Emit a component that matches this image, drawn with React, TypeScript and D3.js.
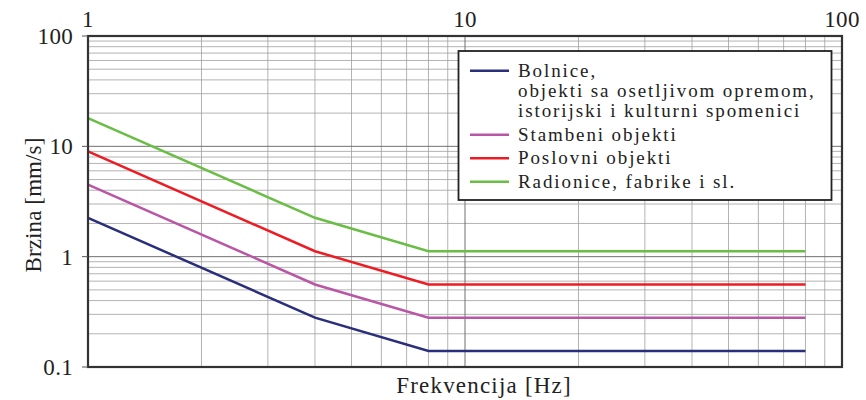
import { useEffect, useRef } from 'react';
import { select, scaleLog, line, range } from 'd3';

const width = 866;
const height = 400;
const margin = { top: 36, right: 24, bottom: 33, left: 88 };

// frequencies [Hz]
const freqs = [1, 4, 8, 80];

const seriesNames = [
  ['Bolnice,', 'objekti sa osetljivom opremom,', 'istorijski i kulturni spomenici'],
  ['Stambeni objekti'],
  ['Poslovni objekti'],
  ['Radionice, fabrike i sl.'],
];
const seriesColors = ['#2b2e7a', '#b956a6', '#ed1c24', '#6abd45'];

// velocity [mm/s]
const bolnice = [2.25, 0.28, 0.14, 0.14];
const stambeni = [4.5, 0.56, 0.28, 0.28];
const poslovni = [9, 1.12, 0.56, 0.56];
const radionice = [18, 2.25, 1.12, 1.12];

const xTicks = [1, 10, 100];
const yTicks = [0.1, 1, 10, 100];
const yTickLabels = ['0.1', '1', '10', '100'];

const font = 'Liberation Serif, serif';

function App() {
  const ref = useRef(null);

  useEffect(() => {
    const svg = select(ref.current);
    svg.selectAll('*').remove();

    const x = scaleLog().domain([1, 100]).range([margin.left, width - margin.right]);
    const y = scaleLog().domain([0.1, 100]).range([height - margin.bottom, margin.top]);

    const g = svg.append('g');

    // minor grid
    const xMinor = [];
    [1, 10].forEach((d) => range(2, 10).forEach((k) => xMinor.push(d * k)));
    const yMinor = [];
    [0.1, 1, 10].forEach((d) => range(2, 10).forEach((k) => yMinor.push(d * k)));

    g.selectAll('.xminor')
      .data(xMinor)
      .join('line')
      .attr('x1', (d) => x(d))
      .attr('x2', (d) => x(d))
      .attr('y1', y(0.1))
      .attr('y2', y(100))
      .attr('stroke', '#a0a0a0')
      .attr('stroke-width', 0.8);

    g.selectAll('.yminor')
      .data(yMinor)
      .join('line')
      .attr('x1', x(1))
      .attr('x2', x(100))
      .attr('y1', (d) => y(d))
      .attr('y2', (d) => y(d))
      .attr('stroke', '#a0a0a0')
      .attr('stroke-width', 0.8);

    // major grid
    g.selectAll('.xmajor')
      .data([10])
      .join('line')
      .attr('x1', (d) => x(d))
      .attr('x2', (d) => x(d))
      .attr('y1', y(0.1))
      .attr('y2', y(100))
      .attr('stroke', '#707070')
      .attr('stroke-width', 1);

    g.selectAll('.ymajor')
      .data([1, 10])
      .join('line')
      .attr('x1', x(1))
      .attr('x2', x(100))
      .attr('y1', (d) => y(d))
      .attr('y2', (d) => y(d))
      .attr('stroke', '#707070')
      .attr('stroke-width', 1);

    // series
    const allSeries = [bolnice, stambeni, poslovni, radionice];
    const lineGen = line()
      .x((d) => x(d[0]))
      .y((d) => y(d[1]));

    allSeries.forEach((vals, i) => {
      g.append('path')
        .attr('d', lineGen(freqs.map((f, j) => [f, vals[j]])))
        .attr('fill', 'none')
        .attr('stroke', seriesColors[i])
        .attr('stroke-width', 2.5);
    });

    // frame
    g.append('rect')
      .attr('x', x(1))
      .attr('y', y(100))
      .attr('width', x(100) - x(1))
      .attr('height', y(0.1) - y(100))
      .attr('fill', 'none')
      .attr('stroke', '#333')
      .attr('stroke-width', 2.2);

    // y ticks
    g.selectAll('.ytick')
      .data(yTicks)
      .join('line')
      .attr('x1', x(1) - 6)
      .attr('x2', x(1))
      .attr('y1', (d) => y(d))
      .attr('y2', (d) => y(d))
      .attr('stroke', '#555')
      .attr('stroke-width', 1);

    const text = (sel, size, spacing) =>
      sel
        .attr('font-family', font)
        .attr('font-size', size)
        .attr('letter-spacing', spacing)
        .attr('fill', '#222');

    g.selectAll('.ylabel')
      .data(yTicks)
      .join('text')
      .attr('x', x(1) - 15)
      .attr('y', (d) => y(d) + 8)
      .attr('text-anchor', 'end')
      .call(text, 23, 0.3)
      .text((d, i) => yTickLabels[i]);

    g.selectAll('.xlabel')
      .data(xTicks)
      .join('text')
      .attr('x', (d) => x(d))
      .attr('y', 26.5)
      .attr('text-anchor', 'middle')
      .call(text, 23, 0.3)
      .text((d) => String(d));

    // axis titles
    g.append('text')
      .attr('x', (x(1) + x(100)) / 2 + 19)
      .attr('y', 393)
      .attr('text-anchor', 'middle')
      .call(text, 23, 1.2)
      .text('Frekvencija [Hz]');

    g.append('text')
      .attr('transform', `translate(40.5, 205) rotate(-90)`)
      .attr('text-anchor', 'middle')
      .call(text, 23, 0.1)
      .text('Brzina [mm/s]');

    // legend
    const lg = g.append('g');
    lg.append('rect')
      .attr('x', 458.5)
      .attr('y', 51)
      .attr('width', 373)
      .attr('height', 149)
      .attr('fill', 'white')
      .attr('stroke', '#222')
      .attr('stroke-width', 1.8);

    let ty = 76.7;
    seriesNames.forEach((lines, i) => {
      lg.append('line')
        .attr('x1', 470)
        .attr('x2', 509)
        .attr('y1', ty - 6)
        .attr('y2', ty - 6)
        .attr('stroke', seriesColors[i])
        .attr('stroke-width', 2.5);
      lines.forEach((t, k) => {
        lg.append('text')
          .attr('x', 518)
          .attr('y', ty + k * 20.3)
          .call(text, 19, 1.9)
          .text(t);
      });
      ty += (lines.length - 1) * 20.3 + 23.5;
    });
  }, []);

  return (
    <svg
      ref={ref}
      width={width}
      height={height}
      style={{ position: 'absolute', left: 0, top: 0, background: 'white' }}
    />
  );
}

export default App;
